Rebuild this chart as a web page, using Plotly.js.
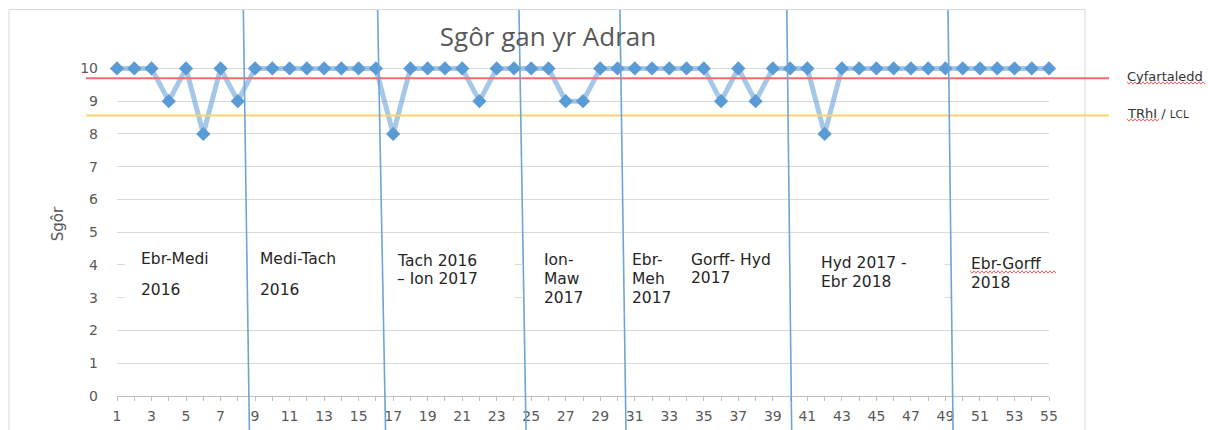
<!DOCTYPE html>
<html>
<head>
<meta charset="utf-8">
<script src="https://cdn.plot.ly/plotly-3.0.1.min.js"></script>
<style>html,body{margin:0;padding:0;background:#fff;}#chart{width:1208px;height:430px;}</style>
</head>
<body>
<div id="chart"></div>
<script>
// ---- data ----
const chartTitle = "Sgôr gan yr Adran";
const yTitle = "Sgôr";
const sampleNo = [1,2,3,4,5,6,7,8,9,10,11,12,13,14,15,16,17,18,19,20,21,22,23,24,25,26,27,28,29,30,31,32,33,34,35,36,37,38,39,40,41,42,43,44,45,46,47,48,49,50,51,52,53,54,55];
const scores   = [10,10,10,9,10,8,10,9,10,10,10,10,10,10,10,10,8,10,10,10,10,9,10,10,10,10,9,9,10,10,10,10,10,10,10,9,10,9,10,10,10,8,10,10,10,10,10,10,10,10,10,10,10,10,10];
const averageValue = 9.7;     // Cyfartaledd
const lclValue = 8.56;        // TRhI / LCL
const averageLabel = "Cyfartaledd";
const lclLabel = 'TRhI / <span style="font-size:10.5px">LCL</span>';
// period boundaries (drawn by hand, slightly slanted): x at bottom and top
const boundaryBottom = [8.67, 16.56, 24.70, 30.49, 40.09, 49.44];
const boundaryTop    = [8.32, 16.10, 24.29, 30.14, 39.81, 49.15];
const periodLines = [
  ["Ebr-Medi", "2016"],
  ["Medi-Tach", "2016"],
  ["Tach 2016", "– Ion 2017"],
  ["Ion-", "Maw", "2017"],
  ["Ebr-", "Meh", "2017"],
  ["Gorff- Hyd", "2017"],
  ["Hyd 2017 -", "Ebr 2018"],
  ["Ebr-Gorff", "2018"]
];

// ---- layout helpers (pixel -> paper) ----
const W = 1208, H = 430;
const L = 117, R = 159, T = 52, B = 34;
const PW = W - L - R, PH = H - T - B;
const px = x => (x - L) / PW;
const py = y => (H - B - y) / PH;

const periodPos = [
  [139, 259, 31], [258, 259, 31], [395, 261, 18], [542, 260, 19],
  [630, 260, 19], [689, 260, 18], [819, 263, 19], [969, 264, 19]
];

const annotations = [];
periodLines.forEach((lines, i) => {
  const [lx, ly, step] = periodPos[i];
  lines.forEach((t, j) => {
    annotations.push({
      xref: 'paper', yref: 'paper', x: px(lx), y: py(ly + j * step),
      xanchor: 'left', yanchor: 'middle', showarrow: false, text: t,
      font: {family: 'DejaVu Sans', size: 15.5, color: '#262626'}
    });
  });
});
annotations.push({xref:'paper', yref:'y', x:px(1125), y:averageValue, xanchor:'left', yanchor:'middle',
  showarrow:false, text:averageLabel, font:{family:'DejaVu Sans', size:13, color:'#333'}, yshift:2});
annotations.push({xref:'paper', yref:'y', x:px(1125), y:lclValue, xanchor:'left', yanchor:'middle',
  showarrow:false, text:lclLabel, font:{family:'DejaVu Sans', size:13, color:'#333'}, yshift:2});

const shapes = [];
// white text boxes covering grid lines
shapes.push({type:'rect', xref:'x', yref:'y', x0:1.46, x1:24.05, y0:2.45, y1:4.6, fillcolor:'#ffffff', line:{width:0}, layer:'above'});
shapes.push({type:'rect', xref:'x', yref:'y', x0:24.45, x1:48.95, y0:2.45, y1:4.6, fillcolor:'#ffffff', line:{width:0}, layer:'above'});
shapes.push({type:'rect', xref:'x', yref:'y', x0:49.4, x1:55, y0:2.45, y1:4.6, fillcolor:'#ffffff', line:{width:0}, layer:'above'});
// chart frame
shapes.push({type:'rect', xref:'paper', yref:'paper', x0:px(9), x1:px(1085), y0:py(445), y1:py(9.5),
  line:{color:'#d9d9d9', width:1}, fillcolor:'rgba(0,0,0,0)', layer:'below'});
// average and LCL lines
shapes.push({type:'line', xref:'paper', yref:'y', x0:px(86), x1:px(1109), y0:averageValue, y1:averageValue,
  line:{color:'#F46B6E', width:2}, layer:'above'});
shapes.push({type:'line', xref:'paper', yref:'y', x0:px(86), x1:px(1109), y0:lclValue, y1:lclValue,
  line:{color:'#FBD46A', width:2}, layer:'above'});
// period boundaries
boundaryBottom.forEach((b, i) => {
  shapes.push({type:'line', xref:'x', yref:'paper', x0:b, x1:boundaryTop[i], y0:py(430), y1:py(10),
    line:{color:'#6AA5DB', width:1.6}, layer:'above'});
});
// spell-check squiggles
function squiggle(x0, x1, y) {
  let d = '';
  let k = 0;
  for (let x = x0; x <= x1; x += 2, k++) {
    const yy = y + (k % 2 ? 1.2 : -1.2);
    d += (k === 0 ? 'M' : 'L') + px(x).toFixed(5) + ',' + py(yy).toFixed(5);
  }
  return {type:'path', xref:'paper', yref:'paper', path:d, line:{color:'#E8383D', width:0.8}, layer:'above'};
}
shapes.push(squiggle(1127, 1205, 83));
shapes.push(squiggle(1127, 1160, 120));
shapes.push(squiggle(970, 1056, 272));

const trace = {
  type:'scatter', mode:'lines+markers', x: sampleNo, y: scores, cliponaxis:false,
  line:{color:'rgba(91,155,213,0.55)', width:5},
  marker:{symbol:'diamond', size:11, color:'#5B9BD5', line:{width:0}},
  hoverinfo:'x+y'
};

const layout = {
  width: W, height: H,
  margin: {l:L, r:R, t:T, b:B, pad:0},
  paper_bgcolor:'#ffffff', plot_bgcolor:'#ffffff',
  showlegend:false,
  title: {text: chartTitle, xref:'container', yref:'container', x:548/W, xanchor:'center', y:1-37/H, yanchor:'middle',
    font:{family:'Open Sans', size:26, color:'#595959'}},
  xaxis: {
    range:[1,55], tick0:1, dtick:2, showgrid:false, zeroline:false,
    showline:true, linecolor:'#bfbfbf', linewidth:1,
    ticks:'outside', ticklen:4, tickcolor:'#bfbfbf', ticklabelstandoff:3,
    minor:{dtick:1, tick0:1, ticks:'outside', ticklen:4, tickcolor:'#bfbfbf', showgrid:false},
    tickfont:{family:'DejaVu Sans', size:14, color:'#595959'}
  },
  yaxis: {
    range:[0,10.5], tick0:0, dtick:1, showgrid:true, gridcolor:'#d9d9d9', gridwidth:1,
    zeroline:false, showline:false, ticks:'', ticklabelstandoff:18,
    tickfont:{family:'DejaVu Sans', size:14, color:'#595959'},
    title:{text:yTitle, standoff:12, font:{family:'DejaVu Sans', size:15, color:'#595959'}}
  },
  shapes: shapes,
  annotations: annotations
};

Plotly.newPlot('chart', [trace], layout, {displayModeBar:false, staticPlot:true});
</script>
</body>
</html>
